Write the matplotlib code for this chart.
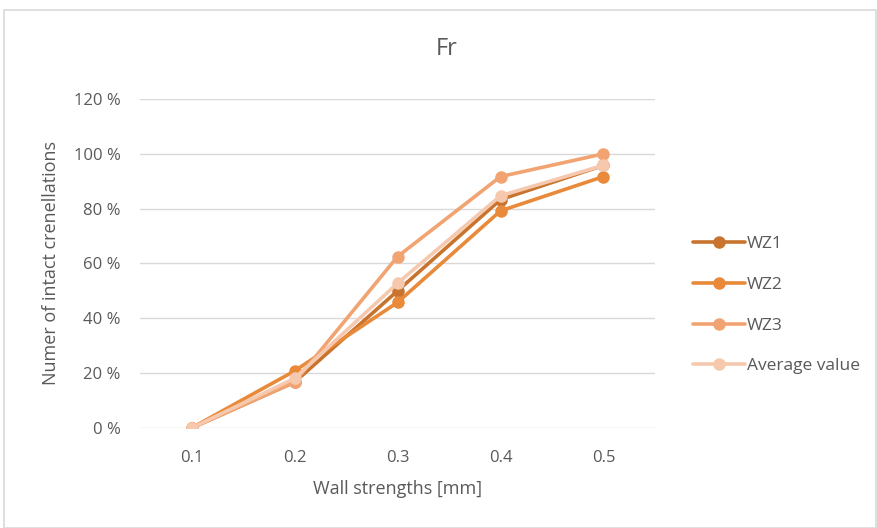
import matplotlib
matplotlib.use("Agg")
import matplotlib.pyplot as plt
from matplotlib.patches import Rectangle
from matplotlib.ticker import FuncFormatter

plt.rcParams['font.family'] = ['Open Sans', 'DejaVu Sans']

categories = ["0.1", "0.2", "0.3", "0.4", "0.5"]
wz1 = [0, 16.7, 50.0, 83.3, 95.8]
wz2 = [0, 20.8, 45.8, 79.2, 91.7]
wz3 = [0, 16.7, 62.5, 91.7, 100.0]
avg = [0, 18.1, 52.8, 84.7, 95.8]
series_names = ["WZ1", "WZ2", "WZ3", "Average value"]
colors = ["#C8742F", "#E9893A", "#F1A472", "#F6C9AE"]

fig = plt.figure(figsize=(8.78, 5.28), dpi=100)
fig.patches.append(Rectangle((0.004, 0.0), 0.994, 0.981, transform=fig.transFigure,
                             fill=False, edgecolor="#D9D9D9", linewidth=1.2))
ax = fig.add_axes([0.1595, 0.1894, 0.746 - 0.1595, 0.8125 - 0.1894])

x = list(range(len(categories)))
for vals, name, c in zip([wz1, wz2, wz3, avg], series_names, colors):
    ax.plot(x, vals, color=c, linewidth=2.6, marker='o', markersize=8,
            label=name, solid_capstyle='round')

ax.set_xlim(-0.5, len(categories) - 0.5)
ax.set_ylim(0, 120)
ax.set_yticks([0, 20, 40, 60, 80, 100, 120])
ax.yaxis.set_major_formatter(FuncFormatter(lambda v, p: f"{int(v)} %"))
ax.set_xticks(x)
ax.set_xticklabels(categories)
ax.grid(axis='y', color="#D9D9D9", linewidth=1)
ax.set_axisbelow(True)
for s in ax.spines.values():
    s.set_visible(False)
ax.tick_params(axis='both', length=0, labelsize=12, colors="#595959")
ax.tick_params(axis='x', pad=16)
ax.tick_params(axis='y', pad=14)

ax.set_xlabel("Wall strengths [mm]", fontsize=13, color="#595959", labelpad=10)
ax.set_ylabel("Numer of intact crenellations", fontsize=13, color="#595959", labelpad=10)
fig.text(0.509, 0.908, "Fr", fontsize=17, color="#595959", ha='center', va='center')

leg = fig.legend(loc='center left', bbox_to_anchor=(0.789, 0.422), frameon=False,
                 fontsize=12.5, labelcolor="#595959", handlelength=3.0,
                 handletextpad=0.1, labelspacing=1.42, borderpad=0, borderaxespad=0)

fig.savefig("out.png", dpi=100)
